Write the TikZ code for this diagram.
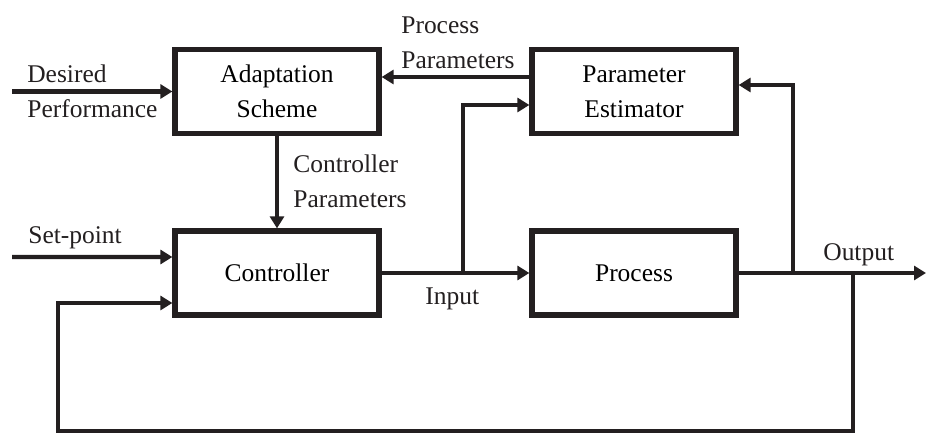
\documentclass[tikz,border=0pt]{standalone}
\usepackage{fontspec}
\setmainfont{Liberation Serif}
\usetikzlibrary{arrows.meta}
\begin{document}
\begin{tikzpicture}[x=0.02cm,y=-0.02cm,font=\fontsize{14.5}{20}\selectfont,
  blk/.style={draw=ink,line width=3pt,minimum width=4.08cm,minimum height=1.68cm,inner sep=0pt,align=center},
  lbl/.style={inner sep=0pt,align=left,text=ink},
  wire/.style={draw=ink,line width=2.5pt},
  sig/.style={wire,-{Triangle[length=0.24cm,width=0.28cm]}}]
\definecolor{ink}{HTML}{231F20}
\useasboundingbox (0,0) rectangle (926,435);
% blocks
\node[blk] (adapt) at (277,91.5) {Adaptation\\Scheme};\node[blk] (estim) at (634,91.5) {Parameter\\Estimator};
\node[blk] (ctrl) at (277,273) {Controller};\node[blk] (proc) at (634,273) {Process};
% free ends and taps
\coordinate (dpin) at (12,91.5);\coordinate (spin) at (12,257);\coordinate (out) at (926,273);
\coordinate (intap) at (463,273);\coordinate (esttap) at (793,273);\coordinate (fbtap) at (853,273);\coordinate (fbbot) at (58,431);
% signals
\draw[sig] (dpin) -- (adapt.west);\draw[sig] ([yshift=0.29cm]estim.west) -- ([yshift=0.29cm]adapt.east);\draw[sig] (adapt.south) -- (ctrl.north);
\draw[sig] (spin) -- ([yshift=0.32cm]ctrl.west);\draw[sig] (ctrl.east) -- (proc.west);\draw[sig] (intap) |- ([yshift=-0.27cm]estim.west);
\draw[sig] (proc.east) -- (out);\draw[sig] (esttap) |- ([yshift=0.13cm]estim.east);\draw[sig] (fbtap) |- (fbbot) |- ([yshift=-0.6cm]ctrl.west);
% labels
\node[lbl,anchor=west] (dplbl) at (27,91) {Desired\\Performance};\node[lbl,anchor=west] (pplbl) at (401,43) {Process\\Parameters};
\node[lbl,anchor=west] (cplbl) at (293,181) {Controller\\Parameters};\node[lbl,anchor=base west] (splbl) at (28,244) {Set-point};
\node[lbl,anchor=base west] (inlbl) at (425,305) {Input};\node[lbl,anchor=base west] (outlbl) at (823,261) {Output};
\end{tikzpicture}
\end{document}
